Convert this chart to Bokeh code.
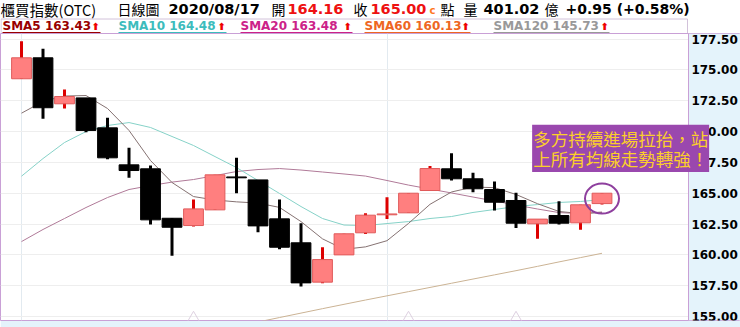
from bokeh.plotting import figure
from bokeh.models import (Range1d, ColumnDataSource, FixedTicker, NumeralTickFormatter,
                          Label, BoxAnnotation)
from bokeh.layouts import column
from bokeh.core.properties import value
from bokeh.embed import file_html
from bokeh.resources import INLINE

# ---------------- data ----------------
opens  = [174.28,175.98,172.25,172.73,170.30,167.30,166.98,162.97,162.38,163.65,
          166.32,166.08,162.92,160.98,157.79,160.00,161.79,163.25,163.41,165.22,
          166.98,166.17,165.30,164.41,162.52,163.19,162.60,164.16]
highs  = [177.33,176.71,173.41,172.73,171.11,168.68,167.25,162.97,164.49,166.49,
          167.87,166.08,164.49,162.57,160.62,161.71,163.38,164.68,165.00,167.20,
          168.24,166.65,165.95,165.03,162.90,164.35,164.06,165.00]
lows   = [174.28,171.03,171.87,169.95,167.76,166.25,162.46,159.92,162.30,163.65,
          165.00,161.83,160.46,157.43,157.70,160.00,161.70,162.90,163.41,165.22,
          166.03,165.08,163.60,162.19,161.30,162.46,162.03,164.08]
closes = [175.98,171.93,172.84,170.09,167.87,166.84,162.84,162.24,163.73,166.49,
          166.25,162.35,160.62,157.73,159.62,161.71,163.22,163.32,165.00,167.00,
          166.17,165.36,164.27,162.57,162.90,162.57,164.06,165.00]

sma5  = [171.49,172.44,172.88,172.92,171.87,170.09,167.65,165.87,164.73,164.45,
         164.30,164.20,163.85,162.70,161.30,160.45,160.65,161.15,162.55,164.10,
         165.10,165.50,165.45,164.90,164.15,163.52,163.35,163.43]
sma10 = [166.38,167.81,169.11,170.00,170.49,170.73,170.33,169.60,168.87,167.97,
         167.08,166.03,164.98,163.92,162.95,162.42,162.38,162.54,162.70,162.95,
         163.11,163.44,163.68,163.92,164.08,164.25,164.33,164.48]
sma20 = [161.08,162.06,162.95,163.84,164.65,165.30,165.62,165.90,166.11,166.43,
         166.76,166.92,167.00,166.88,166.72,166.56,166.39,166.03,165.66,165.34,
         165.02,164.69,164.37,164.04,163.72,163.43,163.35,163.48]
nan = float("nan")
sma60 = [nan,nan,nan,nan,nan,nan,nan,nan,nan,nan,nan,
         154.56,154.92,155.28,155.64,155.99,156.34,156.68,157.02,157.36,
         157.70,158.04,158.38,158.72,159.07,159.43,159.78,160.13]

y_ticks = [155.0, 157.5, 160.0, 162.5, 165.0, 167.5, 170.0, 172.5, 175.0, 177.5]
signal_idx = [8, 18, 23]

title_name = "櫃買指數(OTC)"
title_kind = "日線圖"
date_str = "2020/08/17"
open_str = "164.16"
close_str = "165.00"
volume_str = "401.02"
change_str = "+0.95 (+0.58%)"
legend_names = ["SMA5", "SMA10", "SMA20", "SMA60", "SMA120"]
legend_vals = ["163.43", "164.48", "163.48", "160.13", "145.73"]
legend_colors = ["#990000", "#3cbcbc", "#cc2288", "#ee6622", "#999999"]
note_text = "多方持續進場拉抬，站\n上所有均線走勢轉強！"

# ---------------- header ----------------
CJK = value("Noto Sans CJK TC")
NUM = value("DejaVu Sans")
hdr = figure(width=740, height=33, x_range=Range1d(0, 740), y_range=Range1d(33, 0),
             toolbar_location=None, output_backend="svg", min_border=0)
hdr.axis.visible = False
hdr.grid.visible = False
hdr.outline_line_color = None
hdr.background_fill_color = "white"
hdr.border_fill_color = "white"

def htext(x, y, s, color="black", font=CJK, size="14px", style="normal"):
    hdr.text(x=[x], y=[y], text=[s], text_color=color, text_font=font,
             text_font_size=size, text_font_style=style, text_baseline="middle",
             text_align="left")

ROW1 = 8.5
htext(0, ROW1, title_name, size="14.5px")
htext(117, ROW1, title_kind)
htext(168, ROW1, date_str, font=NUM, size="14.5px", style="bold")
htext(271, ROW1, "開")
htext(287, ROW1, open_str, color="#ee1111", font=NUM, size="14.5px", style="bold")
htext(353, ROW1, "收")
htext(370, ROW1, close_str, color="#ee1111", font=NUM, size="14.5px", style="bold")
htext(429, ROW1 + 1, "c", color="#ff7722", font=NUM, size="10px", style="bold")
htext(440, ROW1, "點")
htext(463, ROW1, "量")
htext(483, ROW1, volume_str, font=NUM, size="14.5px", style="bold")
htext(544, ROW1, "億")
htext(565, ROW1, change_str, font=NUM, size="14px", style="bold")

# legend box
hdr.quad(left=[0.5], right=[687], top=[18.5], bottom=[33], fill_color=None,
         line_color="#d2c2da", line_width=1)
item_x = [2, 118, 240, 364, 493]
arrow_x = [91, 217, 343, 461, 600]
ROW2 = 25.5
for name, val, col, x0, ax in zip(legend_names, legend_vals, legend_colors, item_x, arrow_x):
    htext(x0, ROW2, f"{name} {val}", color=col, font=NUM, size="12px", style="bold")
    htext(ax, ROW2, "⬆", color="#ee0000", font=NUM, size="10px", style="bold")
    hdr.segment(x0=[x0], y0=[32], x1=[ax + 9], y1=[32], line_color=col, line_width=1)

# ---------------- main chart ----------------
n = len(closes)
xs = list(range(n))
up = [c >= o for o, c in zip(opens, closes)]
src = ColumnDataSource(dict(
    x=xs, top=[max(o, c) for o, c in zip(opens, closes)],
    bottom=[min(o, c) for o, c in zip(opens, closes)],
    high=highs, low=lows,
    fill=["#ff7f7f" if u else "#000000" for u in up],
    edge=["#e05a5a" if u else "#000000" for u in up],
    wick=["#dd0000" if u else "#000000" for u in up],
))

X0 = -0.977          # left edge of plotting area
AXIS_X = 31.02       # where the price scale sits
p = figure(width=740, height=294, x_range=Range1d(X0, X0 + 740 / 21.5),
           y_range=Range1d(154.68, 177.95), y_axis_location="right",
           toolbar_location=None, output_backend="svg",
           min_border_left=0, min_border_top=0, min_border_right=0, min_border_bottom=7)
p.border_fill_color = "#e4f3fb"
p.background_fill_color = "white"
p.outline_line_color = "#c9a0d6"
p.outline_line_width = 1
p.xaxis.visible = False
p.xgrid.ticker = FixedTicker(ticks=[0, 17])
p.xgrid.grid_line_color = "#e2eaf0"
p.ygrid.grid_line_color = "#eeeeee"
p.ygrid.ticker = FixedTicker(ticks=y_ticks)

# light-blue background of the price scale
p.add_layout(BoxAnnotation(left=AXIS_X, fill_color="#e4f3fb", fill_alpha=1.0,
                           line_color=None, level="underlay"))

ya = p.yaxis[0]
ya.fixed_location = AXIS_X
ya.ticker = FixedTicker(ticks=y_ticks)
ya.formatter = NumeralTickFormatter(format="0.00")
ya.axis_line_color = "#c9a0d6"
ya.major_tick_line_color = None
ya.minor_tick_line_color = None
ya.major_tick_out = 0
ya.major_tick_in = 0
ya.major_label_standoff = 3
ya.major_label_text_font = "DejaVu Sans"
ya.major_label_text_font_style = "bold"
ya.major_label_text_font_size = "12px"
ya.major_label_text_color = "black"

# moving averages
p.line(xs, sma60, line_color="#cbb394", line_width=1)
p.line(xs, sma20, line_color="#b07a98", line_width=1)
p.line(xs, sma10, line_color="#86d2c8", line_width=1)
p.line(xs, sma5, line_color="#857272", line_width=1)

# candles
p.segment(x0="x", y0="low", x1="x", y1="high", line_color="wick", line_width=3, source=src)
p.vbar(x="x", width=0.92, top="top", bottom="bottom", fill_color="fill",
       line_color="edge", line_width=1, source=src)

# faint signal markers at bottom
p.scatter(x=signal_idx, y=[154.68] * len(signal_idx), marker="triangle", size=16,
          fill_color=None, line_color="#ddd0e0", line_width=1)

# highlight ellipse around last candle
p.ellipse(x=[n - 1], y=[164.57], width=34, height=30, width_units="screen",
          height_units="screen", fill_color=None, line_color="#8e3f9e", line_width=2)

note = Label(x=23.75, y=170.55, text=note_text, text_color="#fccf2a",
             text_font="Noto Sans CJK TC", text_font_size="17.5px",
             text_line_height=0.81, text_align="left", text_baseline="top",
             background_fill_color="#9a48ae", padding=1, level="overlay")
p.add_layout(note)

lay = column(hdr, p, spacing=0)
open("out.html", "w").write(file_html(lay, INLINE))
